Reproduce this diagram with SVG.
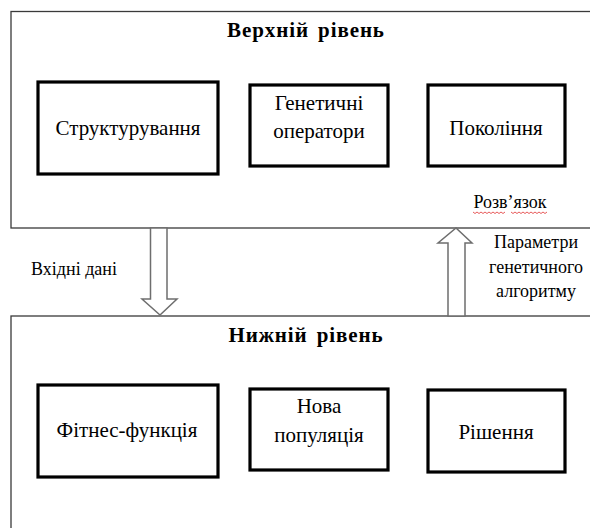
<svg xmlns="http://www.w3.org/2000/svg" width="590" height="528" viewBox="0 0 590 528">
<style>
.outer{fill:#fff;stroke:#3a3a3a;stroke-width:1.3}
.box{fill:#fff;stroke:#000;stroke-width:3.2}
.arrow{fill:#fff;stroke:#6e6e6e;stroke-width:1.5}
text{font-family:'Liberation Serif','Times New Roman',serif;fill:#000;text-anchor:middle}
.t{font-size:21px}
.s{font-size:18px}
.h{font-size:21px;font-weight:bold;letter-spacing:0.9px;word-spacing:3px}
.sq{fill:none;stroke:#e03030;stroke-width:0.8}
</style>
<rect width="590" height="528" fill="#fff"/>
<g id="upper-level">
<rect class="outer" x="11" y="11.5" width="600" height="216.5"/>
<text class="h" x="306" y="37">Верхній рівень</text>
</g>
<g id="lower-level">
<rect class="outer" x="11" y="316" width="600" height="300"/>
<text class="h" x="306" y="342">Нижній рівень</text>
</g>
<g id="structuring">
<rect class="box" x="38" y="82" width="180" height="92"/>
<text class="t" x="128" y="135">Структурування</text>
</g>
<g id="genetic-operators">
<rect class="box" x="250" y="85" width="138" height="81"/>
<text class="t" x="319" y="110">Генетичні</text>
<text class="t" x="319" y="138">оператори</text>
</g>
<g id="generation">
<rect class="box" x="428" y="85" width="137" height="81"/>
<text class="t" x="496" y="135">Покоління</text>
</g>
<g id="solution-label">
<text class="s" x="510" y="208">Розв’язок</text>
<path class="sq" d="M473 212 l2 1.5 l2 -1.5 l2 1.5 l2 -1.5 l2 1.5 l2 -1.5 l2 1.5 l2 -1.5 l2 1.5 l2 -1.5 l2 1.5 l2 -1.5 l2 1.5 l2 -1.5 l2 1.5 l2 -1.5 M511 212 l2 1.5 l2 -1.5 l2 1.5 l2 -1.5 l2 1.5 l2 -1.5 l2 1.5 l2 -1.5 l2 1.5 l2 -1.5 l2 1.5 l2 -1.5 l2 1.5 l2 -1.5 l2 1.5 l2 -1.5 l2 1.5 l2 -1.5"/>
</g>
<g id="fitness">
<rect class="box" x="38" y="385" width="180" height="92"/>
<text class="t" x="127" y="437">Фітнес-функція</text>
</g>
<g id="new-population">
<rect class="box" x="250" y="389" width="138" height="81"/>
<text class="t" x="319" y="413">Нова</text>
<text class="t" x="319" y="442">популяція</text>
</g>
<g id="decision">
<rect class="box" x="428" y="390" width="137" height="82"/>
<text class="t" x="496" y="439">Рішення</text>
</g>
<g id="connectors">
<polygon class="arrow" points="150.5,228 150.5,299 142,299 160,315 177,299 167,299 167,228"/>
<polygon class="arrow" points="448,316 448,243 438,243 456,228 472,243 465,243 465,316"/>
<text class="s" x="74" y="275">Вхідні дані</text>
<text class="s" x="536" y="248">Параметри</text>
<text class="s" x="536" y="273">генетичного</text>
<text class="s" x="536" y="297">алгоритму</text>
</g>
</svg>
